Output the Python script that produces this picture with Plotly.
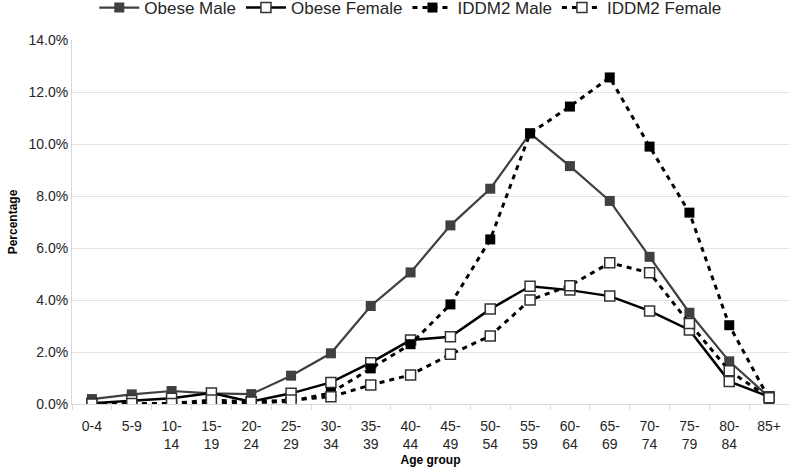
import plotly.graph_objects as go

age_groups = ["0-4", "5-9", "10-<br>14", "15-<br>19", "20-<br>24", "25-<br>29", "30-<br>34",
              "35-<br>39", "40-<br>44", "45-<br>49", "50-<br>54", "55-<br>59", "60-<br>64",
              "65-<br>69", "70-<br>74", "75-<br>79", "80-<br>84", "85+"]

obese_male = [0.19, 0.37, 0.50, 0.41, 0.38, 1.09, 1.95, 3.77, 5.06, 6.87, 8.28, 10.41,
              9.15, 7.81, 5.66, 3.51, 1.64, 0.27]
obese_female = [0.03, 0.13, 0.22, 0.42, 0.09, 0.41, 0.83, 1.59, 2.46, 2.59, 3.65, 4.53,
                4.38, 4.15, 3.58, 2.85, 0.87, 0.28]
iddm2_male = [0.0, 0.0, 0.0, 0.02, 0.05, 0.10, 0.43, 1.37, 2.30, 3.83, 6.33, 10.41,
              11.44, 12.56, 9.90, 7.36, 3.03, 0.20]
iddm2_female = [0.0, 0.02, 0.02, 0.15, 0.08, 0.15, 0.28, 0.73, 1.12, 1.91, 2.62, 4.00,
                4.55, 5.43, 5.05, 3.10, 1.28, 0.24]

def pct(v):
    return [x / 100 for x in v]

fig = go.Figure()
fig.add_trace(go.Scatter(
    x=age_groups, y=pct(obese_male), name="Obese Male", mode="lines+markers",
    line=dict(color="#404040", width=2.2),
    marker=dict(symbol="square", size=10, color="#404040", line=dict(color="#404040", width=0)),
))
fig.add_trace(go.Scatter(
    x=age_groups, y=pct(obese_female), name="Obese Female", mode="lines+markers",
    line=dict(color="#000000", width=2.5),
    marker=dict(symbol="square", size=10, color="#ffffff", line=dict(color="#333333", width=1.5)),
))
fig.add_trace(go.Scatter(
    x=age_groups, y=pct(iddm2_male), name="IDDM2 Male", mode="lines+markers",
    line=dict(color="#000000", width=3, dash="5px,5px"),
    marker=dict(symbol="square", size=10, color="#000000", line=dict(color="#000000", width=0)),
))
fig.add_trace(go.Scatter(
    x=age_groups, y=pct(iddm2_female), name="IDDM2 Female", mode="lines+markers",
    line=dict(color="#000000", width=3, dash="5px,5px"),
    marker=dict(symbol="square", size=10, color="#ffffff", line=dict(color="#333333", width=1.5)),
))

fig.update_layout(
    width=789, height=470,
    margin=dict(l=72, r=0, t=40, b=66),
    paper_bgcolor="white", plot_bgcolor="white",
    font=dict(family="Liberation Sans, Arial, sans-serif", size=14, color="#262626"),
    legend=dict(orientation="h", xref="container", x=0.52, xanchor="center",
                yref="container", y=0.983, yanchor="middle",
                font=dict(size=17, color="#262626"), itemwidth=40,
                bgcolor="rgba(0,0,0,0)"),
    showlegend=True,
)

fig.update_xaxes(
    type="category", range=[-0.5, len(age_groups) - 0.5], automargin=False,
    showgrid=False, showline=True, linecolor="#d9d9d9", linewidth=1,
    ticks="outside", tickson="boundaries", ticklen=5, tickcolor="#d9d9d9",
    ticklabelstandoff=9,
    title=dict(text="<b>Age group</b>", font=dict(size=12, color="#000000"), standoff=4),
    tickfont=dict(size=14, color="#262626"),
)
fig.update_yaxes(
    range=[0, 0.14], dtick=0.02, tickformat=".1%", automargin=False,
    showgrid=True, gridcolor="#e3e3e3",
    showline=True, linecolor="#d9d9d9", zeroline=False, ticks="", ticklen=0,
    title=dict(text="<b>Percentage</b>", font=dict(size=12, color="#000000"), standoff=8),
    tickfont=dict(size=14, color="#262626"),
)

fig.write_html("out.html", config={"displayModeBar": False},
               post_script="document.body.style.margin='0';")
